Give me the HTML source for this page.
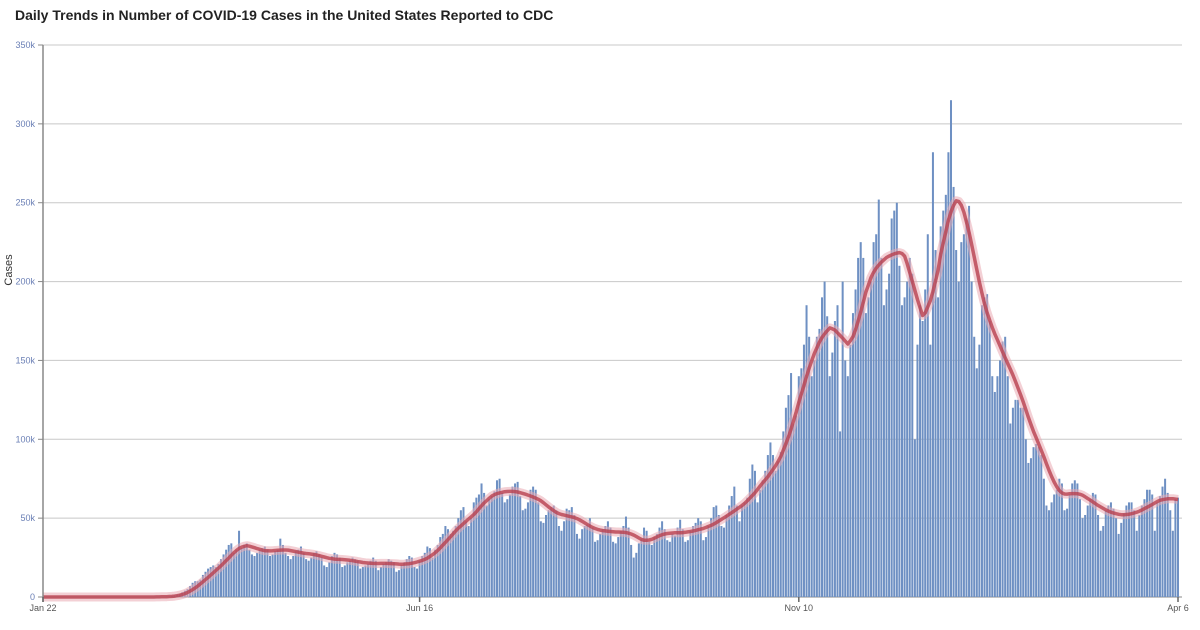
<!DOCTYPE html>
<html><head><meta charset="utf-8"><style>
body{margin:0;background:#fff;font-family:"Liberation Sans",sans-serif}
#t{position:absolute;left:15px;top:7px;font-size:14px;font-weight:bold;color:#222}
</style></head><body>
<div id="t">Daily Trends in Number of COVID-19 Cases in the United States Reported to CDC</div>
<svg id="c" width="1200" height="630" style="position:absolute;left:0;top:0"></svg>
<script>
const startLabels=["Jan 22","Jun 16","Nov 10","Apr 6"];
const labelDays=[0,146,293,440];
const yTicks=[0,50,100,150,200,250,300,350];
const cases=[
0,0,0,0,0,0,0, 0,0,0,0,0,0,0, 0,0,0,0,0,0,0, 0,0,0,0,0,0,0, 0,0,0,0,0,0,0,
0,0,0,0,0,0,0.02, 0.03,0.05,0.1,0.1,0.2,0.3,0.4, 0.5,0.7,1,1.5,2,3,4,
5,7,9,10,10,11,14, 16,18,19,20,19,21,24, 27,30,33,34,28,30,42,
31,33,34,30,27,26,28, 30,31,32,30,26,27,29, 30,37,33,28,26,24,26,
29,30,32,28,24,23,25, 28,29,27,25,20,19,22, 26,28,27,25,19,20,22,
23,25,24,23,18,19,20, 21,23,25,23,17,19,21, 22,24,23,22,16,17,20,
22,24,26,25,19,18,23, 26,28,32,31,25,30,33, 38,40,45,43,40,42,45,
50,55,57,48,45,50,60, 63,65,72,66,58,62,64, 67,74,75,66,60,62,65,
70,72,73,64,55,56,60, 68,70,68,60,48,47,52, 55,57,58,55,45,42,48,
56,55,57,52,40,37,43, 45,46,50,44,35,36,40, 43,45,48,44,35,34,38,
42,45,51,44,33,25,28, 34,37,44,42,35,33,38, 40,44,48,43,36,35,40,
39,44,49,43,35,36,42, 45,47,50,48,36,38,45, 50,57,58,52,45,44,52,
58,64,70,58,48,58,60, 63,75,84,80,60,68,74, 80,90,98,90,80,86,92,
105,120,128,142,110,115,140, 145,160,185,165,140,150,165, 170,190,200,178,140,155,175,
185,105,200,150,140,160,180, 195,215,225,215,180,190,200, 225,230,252,215,185,195,205,
240,245,250,210,185,190,200, 215,205,100,160,185,175,195, 230,160,282,220,190,235,245,
255,282,315,260,220,200,225, 230,240,248,200,165,145,160, 185,190,192,175,140,130,140,
150,162,165,140,110,120,125, 125,120,120,100,85,88,95, 97,95,90,75,58,55,60,
65,68,75,72,55,56,65, 72,74,72,62,50,52,58, 62,66,65,52,42,45,55,
58,60,56,50,40,47,53, 58,60,60,55,42,52,58, 62,68,68,65,42,60,64,
70,75,66,55,42,62,63];
const NS="http://www.w3.org/2000/svg";
const svg=document.getElementById('c');
const x0=43,x1=1178,y0=597,y1=45,nDays=cases.length;
const X=d=>x0+d*(x1-x0)/(nDays-1);
const Y=v=>y0-v/350*(y0-y1);
function mk(t,a,p){const e=document.createElementNS(NS,t);for(const k in a)e.setAttribute(k,a[k]);(p||svg).appendChild(e);return e;}
yTicks.forEach(v=>{
 const g=mk('line',{x1:x0,x2:1182,y1:Y(v),y2:Y(v),stroke:v?'#c8c8c8':'#888','stroke-width':1});
 
 
 mk('line',{x1:x0-5,x2:x0,y1:Y(v),y2:Y(v),stroke:'#888'});
 const t=mk('text',{x:x0-8,y:Y(v)+3,'text-anchor':'end','font-size':9,fill:'#6a7fb5'});
 t.textContent=v?v+'k':'0';
 
 
});
const bw=(x1-x0)/(nDays-1)*0.78;
cases.forEach((v,i)=>{
 if(v<=0)return;
 const r=mk('rect',{x:X(i)-bw/2,y:Y(v),width:bw,height:y0-Y(v),fill:'#6e90c3'});
 
 
});
function smooth(a,back,fwd){return a.map((v,i)=>{let s=0,n=0;for(let j=Math.max(0,i-back);j<=Math.min(a.length-1,i+fwd);j++){s+=a[j];n++;}return s/n;});}
const avg=smooth(smooth(cases,6,0),3,3);
const pts=avg.map((v,i)=>X(i).toFixed(1)+','+Y(v).toFixed(1)).join(' ');
const halo=mk('polyline',{points:pts,fill:'none',stroke:'#e9a9b2','stroke-width':9,'stroke-opacity':0.55,'stroke-linejoin':'round'});


const ln=mk('polyline',{points:pts,fill:'none',stroke:'#b8404f','stroke-width':3.5,'stroke-opacity':0.8,'stroke-linejoin':'round'});


const ax=mk('line',{x1:x0,x2:x0,y1:y1,y2:y0+5,stroke:'#888','stroke-width':1.5});


labelDays.forEach((d,i)=>{
 mk('line',{x1:X(d),x2:X(d),y1:y0,y2:y0+5,stroke:'#666','stroke-width':1.5});
 const t=mk('text',{x:X(d),y:y0+14,'text-anchor':'middle','font-size':9,fill:'#555'});
 t.textContent=startLabels[i];
 
 
});
const yl=mk('text',{x:12,y:270,'text-anchor':'middle','font-size':11,fill:'#333',transform:'rotate(-90 12 270)'});
yl.textContent='Cases';


</script>
</body></html>
